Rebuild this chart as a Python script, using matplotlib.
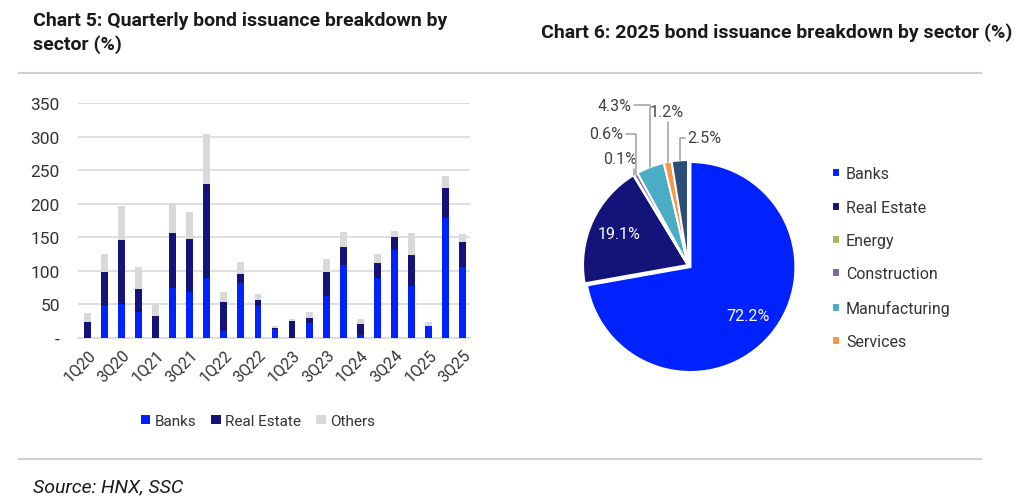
import numpy as np
import matplotlib
matplotlib.use("Agg")
import matplotlib.pyplot as plt
from matplotlib.lines import Line2D

plt.rcParams['font.family'] = ['Roboto', 'DejaVu Sans']

# Chart 5 data
quarters = ['1Q20', '2Q20', '3Q20', '4Q20', '1Q21', '2Q21', '3Q21', '4Q21',
            '1Q22', '2Q22', '3Q22', '4Q22', '1Q23', '2Q23', '3Q23', '4Q23',
            '1Q24', '2Q24', '3Q24', '4Q24', '1Q25', '2Q25', '3Q25']
banks = [0, 47, 50, 38, 0, 74, 68, 90, 10, 82, 47, 14, 0, 22, 63, 109,
         5, 90, 131, 78, 18, 179, 106]
real_estate = [24, 52, 96, 35, 33, 83, 79, 139, 44, 14, 9, 1, 25, 8, 35, 26,
               16, 22, 20, 46, 0, 45, 37]
others = [13, 26, 50, 33, 17, 43, 41, 75, 15, 17, 10, 3, 4, 8, 20, 23,
          8, 13, 9, 33, 6, 18, 12]
y_ticks = [0, 50, 100, 150, 200, 250, 300, 350]
y_tick_labels = ['-', '50', '100', '150', '200', '250', '300', '350']

# Chart 6 data
sectors = ['Banks', 'Real Estate', 'Energy', 'Construction', 'Manufacturing',
           'Services', 'Others']
shares = [72.2, 19.1, 0.1, 0.6, 4.3, 1.2, 2.5]

BLUE = '#0022FF'
NAVY = '#13137A'
GREY = '#D9D9D9'
pie_colors = [BLUE, NAVY, '#9BBB59', '#8064A2', '#4BACC6', '#F79646', '#2C4D75']
TXT = '#1A1A1A'

W, H = 1024, 502
fig = plt.figure(figsize=(W / 100, H / 100), dpi=100)

def px_axes(left, top, right, bottom):
    # axes from pixel box
    return fig.add_axes([left / W, 1 - bottom / H, (right - left) / W, (bottom - top) / H])

# titles and rules
fig.text(33 / W, 1 - 12 / H, 'Chart 5: Quarterly bond issuance breakdown by\nsector (%)',
         fontsize=14, fontweight='bold', color=TXT, va='top', ha='left', linespacing=1.35)
fig.text(541 / W, 1 - 33 / H, 'Chart 6: 2025 bond issuance breakdown by sector (%)',
         fontsize=14, fontweight='bold', color=TXT, va='center', ha='left')
fig.text(33 / W, 1 - 487 / H, 'Source: HNX, SSC', fontsize=14, style='italic',
         color=TXT, va='center', ha='left')
for yy in (74, 460):
    fig.add_artist(Line2D([19 / W, 981 / W], [1 - yy / H, 1 - yy / H],
                          color='#D0D0D0', lw=1.5))

# ---- bar chart ----
ax = px_axes(78, 104, 470, 339)
x = np.arange(len(quarters))
b = np.array(banks)
r = np.array(real_estate)
o = np.array(others)
ax.bar(x, b, width=0.4, color=BLUE, label='Banks', zorder=3)
ax.bar(x, r, width=0.4, bottom=b, color=NAVY, label='Real Estate', zorder=3)
ax.bar(x, o, width=0.4, bottom=b + r, color=GREY, label='Others', zorder=3)
ax.set_xlim(-0.55, len(quarters) - 0.57)
ax.set_ylim(0, 350)
ax.set_yticks(y_ticks)
ax.set_yticklabels(y_tick_labels)
ax.set_xticks(x[::2])
ax.set_xticklabels(quarters[::2], rotation=45, ha='right', rotation_mode='anchor')
ax.grid(axis='y', color='#D9D9D9', lw=1.2, zorder=0)
for s in ('top', 'right', 'left'):
    ax.spines[s].set_visible(False)
ax.spines['bottom'].set_color('#D9D9D9')
ax.spines['bottom'].set_linewidth(1.2)
ax.tick_params(axis='both', length=0, labelcolor='#333333')
ax.tick_params(axis='y', pad=13, labelsize=12.5)
ax.tick_params(axis='x', pad=6, labelsize=11.5)
ax.legend(loc='center', bbox_to_anchor=(258 / W, 1 - 422 / H), bbox_transform=fig.transFigure,
          ncol=3, frameon=False, fontsize=11, handlelength=0.6, handleheight=0.6,
          handletextpad=0.3, columnspacing=1.0, labelcolor='#333333')

# ---- pie chart ----
pax = px_axes(688 - 150, 266 - 150, 688 + 150, 266 + 150)
wedges, _ = pax.pie(shares, colors=pie_colors, startangle=90, counterclock=False,
                    explode=[0.03, 0, 0, 0, 0, 0, 0],
                    wedgeprops=dict(edgecolor='white', linewidth=1.5))
pax.set_xlim(-150 / 105, 150 / 105)
pax.set_ylim(-150 / 105, 150 / 105)
pax.set_aspect('equal')
pax.axis('off')

# label positions for small slices (pie units)
label_pos = {2: (-0.65, 1.01), 3: (-0.78, 1.25), 4: (-0.70, 1.52),
             5: (-0.20, 1.46), 6: (0.16, 1.21)}
for i, w in enumerate(wedges):
    mid = np.deg2rad((w.theta1 + w.theta2) / 2)
    cx, cy = w.center
    if i < 2:
        pax.text(cx + 0.72 * np.cos(mid), cy + 0.72 * np.sin(mid), f'{shares[i]:.1f}%',
                 color='white', fontsize=11.5, ha='center', va='center')
    else:
        pt = (np.cos(mid), np.sin(mid))
        pax.annotate(f'{shares[i]:.1f}%', xy=pt, xytext=label_pos[i], fontsize=11.5,
                     color='#404040', ha='center', va='center',
                     arrowprops=dict(arrowstyle='-', color='#A6A6A6', lw=1.2,
                                     shrinkA=0, shrinkB=0,
                                     connectionstyle='angle,angleA=0,angleB=90,rad=0'))

pax.legend(wedges[:6], sectors[:6], loc='upper left',
           bbox_to_anchor=(818 / W, 1 - 153 / H), bbox_transform=fig.transFigure,
           frameon=False, fontsize=11.5, handlelength=0.5, handleheight=0.5,
           handletextpad=0.35, labelspacing=1.15, labelcolor='#333333')

fig.savefig('out.png', dpi=100)
